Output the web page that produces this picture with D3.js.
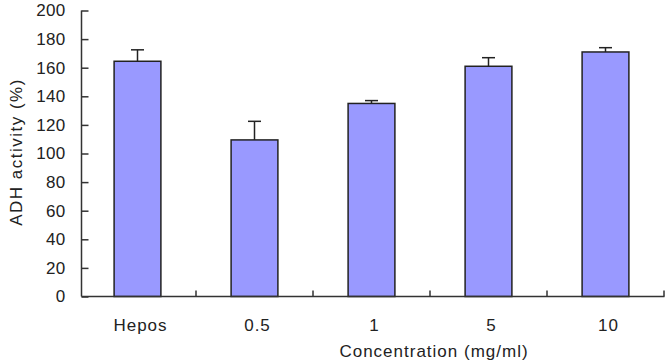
<!DOCTYPE html>
<html>
<head>
<meta charset="utf-8">
<script src="https://cdn.jsdelivr.net/npm/d3@7"></script>
<style>
body{margin:0;background:#fff;}
svg{display:block;}
text{font-family:"Liberation Sans",Arial,sans-serif;fill:#222;}
</style>
</head>
<body>
<svg></svg>
<script>
var categories = ["Hepos", "0.5", "1", "5", "10"];
var values = [164.5, 109.5, 135, 161, 171];
var errors = [8, 13, 2, 6, 3];
var yTicks = [0, 20, 40, 60, 80, 100, 120, 140, 160, 180, 200];

var width = 668, height = 361;
var svg = d3.select("svg").attr("width", width).attr("height", height);

var axisX = 81.5;
var x = d3.scaleBand().domain(categories).range([79, 664]).paddingInner(0.6).paddingOuter(0.3);
var y = d3.scaleLinear().domain([0, 200]).range([296.5, 10.5]);

// bars
svg.selectAll(".bar").data(categories)
	.enter().append("rect")
	.attr("class", "bar")
	.attr("x", function(d){ return x(d); })
	.attr("y", function(d, i){ return y(values[i]); })
	.attr("width", x.bandwidth())
	.attr("height", function(d, i){ return y(0) - y(values[i]); })
	.style("fill", "#9999ff")
	.style("stroke", "#222")
	.style("stroke-width", 1.5);

// error bars (upper only)
var err = svg.selectAll(".err").data(categories).enter().append("g").attr("class", "err");
err.append("line")
	.attr("x1", function(d){ return x(d) + x.bandwidth()/2; })
	.attr("x2", function(d){ return x(d) + x.bandwidth()/2; })
	.attr("y1", function(d, i){ return y(values[i]); })
	.attr("y2", function(d, i){ return y(values[i] + errors[i]); });
err.append("line")
	.attr("x1", function(d){ return x(d) + x.bandwidth()/2 - 6.5; })
	.attr("x2", function(d){ return x(d) + x.bandwidth()/2 + 6.5; })
	.attr("y1", function(d, i){ return y(values[i] + errors[i]); })
	.attr("y2", function(d, i){ return y(values[i] + errors[i]); });
err.selectAll("line").style("stroke", "#222").style("stroke-width", 1.5);

// y axis
var yAxis = svg.append("g").attr("transform", "translate(" + axisX + ",0)")
	.call(d3.axisLeft(y).tickValues(yTicks).tickSize(-7).tickPadding(16));
yAxis.select(".domain").attr("d", "M0," + y(200) + "V" + y(0)).style("stroke", "#333").style("stroke-width", 1.5);
yAxis.selectAll(".tick line").style("stroke", "#333").style("stroke-width", 1.5);
yAxis.selectAll(".tick text")
	.style("font-size", "17px")
	.style("letter-spacing", "0.3px")
	.style("fill", "#222")
	.attr("font-family", null);

// x axis
svg.append("line")
	.attr("x1", axisX).attr("x2", 664.5)
	.attr("y1", y(0)).attr("y2", y(0))
	.style("stroke", "#333").style("stroke-width", 1.5);
var bounds = categories.map(function(d){ return x(d) - x.step()*x.paddingInner()/2; });
bounds.push(x(categories[categories.length-1]) + x.bandwidth() + x.step()*x.paddingInner()/2);
svg.selectAll(".xtick").data(bounds.slice(1))
	.enter().append("line")
	.attr("class", "xtick")
	.attr("x1", function(d){ return d; }).attr("x2", function(d){ return d; })
	.attr("y1", y(0)).attr("y2", y(0) - 6)
	.style("stroke", "#333").style("stroke-width", 1.5);

svg.selectAll(".xlabel").data(categories)
	.enter().append("text")
	.attr("class", "xlabel")
	.attr("x", function(d){ return x(d) + x.bandwidth()/2 + 3; })
	.attr("y", 331)
	.attr("text-anchor", "middle")
	.style("font-size", "17px")
	.style("letter-spacing", "1px")
	.text(function(d){ return d; });

svg.append("text")
	.attr("x", 434)
	.attr("y", 357)
	.attr("text-anchor", "middle")
	.style("font-size", "17px")
	.style("letter-spacing", "1px")
	.text("Concentration (mg/ml)");

svg.append("text")
	.attr("transform", "translate(22,152) rotate(-90)")
	.attr("text-anchor", "middle")
	.style("font-size", "17px")
	.style("letter-spacing", "1.5px")
	.text("ADH activity (%)");
</script>
</body>
</html>
